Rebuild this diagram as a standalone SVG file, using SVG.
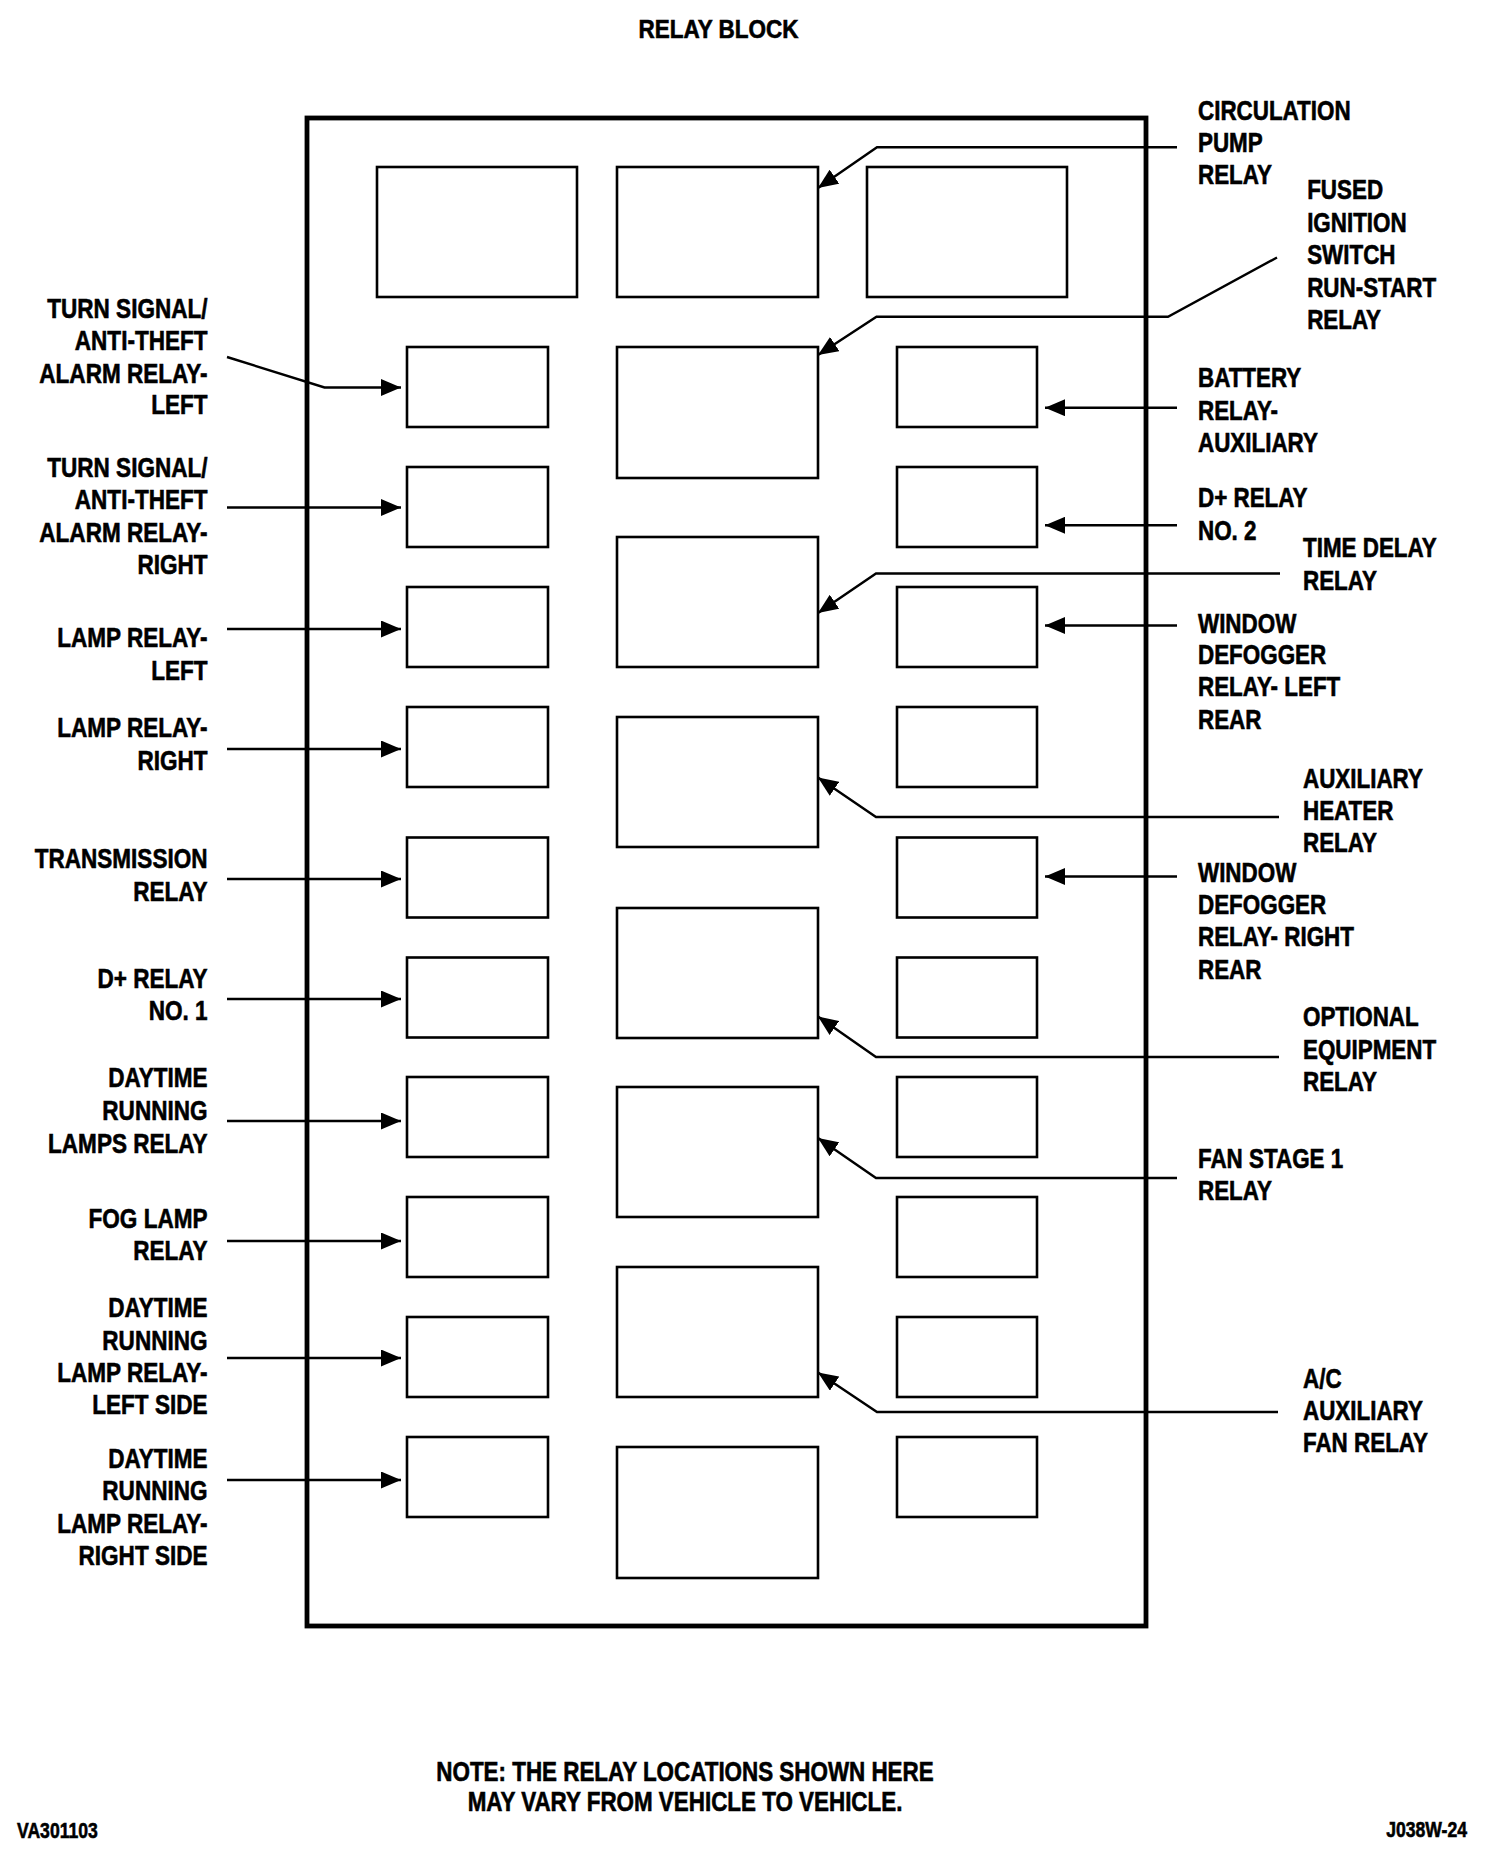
<svg xmlns="http://www.w3.org/2000/svg" width="1504" height="1858" viewBox="0 0 1504 1858">
<defs>
<style>
.bg{fill:#fff}
.frame{fill:none;stroke:#000;stroke-width:4.8}
.box{fill:none;stroke:#000;stroke-width:2.6}
.ln{fill:none;stroke:#000;stroke-width:2.4;stroke-linejoin:miter}
.t{font-family:"Liberation Sans",Arial,Helvetica,sans-serif;font-weight:bold;font-size:27px;fill:#000;stroke:#000;stroke-width:0.6}
.e{text-anchor:end}
.m{text-anchor:middle}
.s{font-size:22px}
</style>
<marker id="ah" viewBox="0 0 20 17" refX="20" refY="8.5" markerWidth="20" markerHeight="17" markerUnits="userSpaceOnUse" orient="auto">
<path d="M0,0 L20,8.5 L0,17 Z" fill="#000"/>
</marker>
</defs>
<rect class="bg" x="0" y="0" width="1504" height="1858"/>

<text class="t m" transform="translate(718.5 0) scale(0.9 1)" style="font-size:25px"><tspan x="0" y="37.7">RELAY BLOCK</tspan></text>

<g id="relay-block">
<rect class="frame" x="307" y="118" width="839" height="1508"/>
</g>

<g id="relays-top">
<rect id="top-left" class="box" x="377" y="167" width="200" height="130"/>
<rect id="circulation-pump-relay" class="box" x="617" y="167" width="201" height="130"/>
<rect id="top-right" class="box" x="867" y="167" width="200" height="130"/>
</g>

<g id="relays-middle">
<rect id="fused-ignition-relay" class="box" x="617" y="347" width="201" height="131"/>
<rect id="time-delay-relay" class="box" x="617" y="537" width="201" height="130"/>
<rect id="auxiliary-heater-relay" class="box" x="617" y="717" width="201" height="130"/>
<rect id="optional-equipment-relay" class="box" x="617" y="908" width="201" height="130"/>
<rect id="fan-stage-1-relay" class="box" x="617" y="1087" width="201" height="130"/>
<rect id="ac-auxiliary-fan-relay" class="box" x="617" y="1267" width="201" height="130"/>
<rect id="middle-bottom" class="box" x="617" y="1447" width="201" height="131"/>
</g>

<g id="relays-left">
<rect id="turn-signal-left" class="box" x="407" y="347" width="141" height="80"/>
<rect id="turn-signal-right" class="box" x="407" y="467" width="141" height="80"/>
<rect id="lamp-relay-left" class="box" x="407" y="587" width="141" height="80"/>
<rect id="lamp-relay-right" class="box" x="407" y="707" width="141" height="80"/>
<rect id="transmission-relay" class="box" x="407" y="837.5" width="141" height="80"/>
<rect id="d-plus-relay-1" class="box" x="407" y="957.5" width="141" height="80"/>
<rect id="drl-relay" class="box" x="407" y="1077" width="141" height="80"/>
<rect id="fog-lamp-relay" class="box" x="407" y="1197" width="141" height="80"/>
<rect id="drl-left-side" class="box" x="407" y="1317" width="141" height="80"/>
<rect id="drl-right-side" class="box" x="407" y="1437" width="141" height="80"/>
</g>

<g id="relays-right">
<rect id="battery-relay-aux" class="box" x="897" y="347" width="140" height="80"/>
<rect id="d-plus-relay-2" class="box" x="897" y="467" width="140" height="80"/>
<rect id="window-defogger-left" class="box" x="897" y="587" width="140" height="80"/>
<rect id="right-4" class="box" x="897" y="707" width="140" height="80"/>
<rect id="window-defogger-right" class="box" x="897" y="837.5" width="140" height="80"/>
<rect id="right-6" class="box" x="897" y="957.5" width="140" height="80"/>
<rect id="right-7" class="box" x="897" y="1077" width="140" height="80"/>
<rect id="right-8" class="box" x="897" y="1197" width="140" height="80"/>
<rect id="right-9" class="box" x="897" y="1317" width="140" height="80"/>
<rect id="right-10" class="box" x="897" y="1437" width="140" height="80"/>
</g>

<g id="connectors">
<polyline class="ln" points="227,357 324.5,387.5 401,387.5" marker-end="url(#ah)"/>
<polyline class="ln" points="227,507.5 401,507.5" marker-end="url(#ah)"/>
<polyline class="ln" points="227,629 401,629" marker-end="url(#ah)"/>
<polyline class="ln" points="227,749 401,749" marker-end="url(#ah)"/>
<polyline class="ln" points="227,879 401,879" marker-end="url(#ah)"/>
<polyline class="ln" points="227,999 401,999" marker-end="url(#ah)"/>
<polyline class="ln" points="227,1121 401,1121" marker-end="url(#ah)"/>
<polyline class="ln" points="227,1241 401,1241" marker-end="url(#ah)"/>
<polyline class="ln" points="227,1358 401,1358" marker-end="url(#ah)"/>
<polyline class="ln" points="227,1480 401,1480" marker-end="url(#ah)"/>

<polyline class="ln" points="1177,407.7 1045,407.7" marker-end="url(#ah)"/>
<polyline class="ln" points="1177,525.3 1045,525.3" marker-end="url(#ah)"/>
<polyline class="ln" points="1177,625.5 1045,625.5" marker-end="url(#ah)"/>
<polyline class="ln" points="1177,876.5 1045,876.5" marker-end="url(#ah)"/>

<polyline class="ln" points="1177,147.3 877,147.3 818,188" marker-end="url(#ah)"/>
<polyline class="ln" points="1277,257.5 1168,316.7 876.5,316.7 818,355" marker-end="url(#ah)"/>
<polyline class="ln" points="1280,573.5 876,573.5 818,613" marker-end="url(#ah)"/>
<polyline class="ln" points="1279,817 876,817 818,777.5" marker-end="url(#ah)"/>
<polyline class="ln" points="1279,1057 876,1057 818,1016.5" marker-end="url(#ah)"/>
<polyline class="ln" points="1177,1178 876,1178 818,1138" marker-end="url(#ah)"/>
<polyline class="ln" points="1278,1412 877,1412 818,1372.5" marker-end="url(#ah)"/>
</g>

<g id="labels-left" class="t e" transform="translate(207.5 0) scale(0.835 1)">
<text><tspan x="0" y="318">TURN SIGNAL/</tspan><tspan x="0" y="350.5">ANTI-THEFT</tspan><tspan x="0" y="382.7">ALARM RELAY-</tspan><tspan x="0" y="414.5">LEFT</tspan></text>
<text><tspan x="0" y="477">TURN SIGNAL/</tspan><tspan x="0" y="509.5">ANTI-THEFT</tspan><tspan x="0" y="541.7">ALARM RELAY-</tspan><tspan x="0" y="574">RIGHT</tspan></text>
<text><tspan x="0" y="647.3">LAMP RELAY-</tspan><tspan x="0" y="680">LEFT</tspan></text>
<text><tspan x="0" y="737.5">LAMP RELAY-</tspan><tspan x="0" y="770">RIGHT</tspan></text>
<text><tspan x="0" y="868">TRANSMISSION</tspan><tspan x="0" y="901">RELAY</tspan></text>
<text><tspan x="0" y="987.6">D+ RELAY</tspan><tspan x="0" y="1020.5">NO. 1</tspan></text>
<text><tspan x="0" y="1087.5">DAYTIME</tspan><tspan x="0" y="1120.4">RUNNING</tspan><tspan x="0" y="1152.7">LAMPS RELAY</tspan></text>
<text><tspan x="0" y="1228">FOG LAMP</tspan><tspan x="0" y="1260.2">RELAY</tspan></text>
<text><tspan x="0" y="1317.3">DAYTIME</tspan><tspan x="0" y="1350">RUNNING</tspan><tspan x="0" y="1382.5">LAMP RELAY-</tspan><tspan x="0" y="1414.4">LEFT SIDE</tspan></text>
<text><tspan x="0" y="1467.6">DAYTIME</tspan><tspan x="0" y="1500.5">RUNNING</tspan><tspan x="0" y="1532.8">LAMP RELAY-</tspan><tspan x="0" y="1564.7">RIGHT SIDE</tspan></text>
</g>

<g id="labels-right-a" class="t" transform="translate(1198 0) scale(0.83 1)">
<text><tspan x="0" y="120">CIRCULATION</tspan><tspan x="0" y="152">PUMP</tspan><tspan x="0" y="184">RELAY</tspan></text>
<text><tspan x="0" y="387.3">BATTERY</tspan><tspan x="0" y="420">RELAY-</tspan><tspan x="0" y="452.3">AUXILIARY</tspan></text>
<text><tspan x="0" y="507.3">D+ RELAY</tspan><tspan x="0" y="540">NO. 2</tspan></text>
<text><tspan x="0" y="632.8">WINDOW</tspan><tspan x="0" y="664.5">DEFOGGER</tspan><tspan x="0" y="696.5">RELAY- LEFT</tspan><tspan x="0" y="728.7">REAR</tspan></text>
<text><tspan x="0" y="882.3">WINDOW</tspan><tspan x="0" y="914">DEFOGGER</tspan><tspan x="0" y="946">RELAY- RIGHT</tspan><tspan x="0" y="978.7">REAR</tspan></text>
<text><tspan x="0" y="1168">FAN STAGE 1</tspan><tspan x="0" y="1200">RELAY</tspan></text>
</g>

<g id="labels-right-b" class="t" transform="translate(1303 0) scale(0.83 1)">
<text><tspan x="5" y="199">FUSED</tspan><tspan x="5" y="231.7">IGNITION</tspan><tspan x="5" y="264.3">SWITCH</tspan><tspan x="5" y="296.7">RUN-START</tspan><tspan x="5" y="329.3">RELAY</tspan></text>
<text><tspan x="0" y="557">TIME DELAY</tspan><tspan x="0" y="590">RELAY</tspan></text>
<text><tspan x="0" y="787.7">AUXILIARY</tspan><tspan x="0" y="820">HEATER</tspan><tspan x="0" y="852.4">RELAY</tspan></text>
<text><tspan x="0" y="1026.5">OPTIONAL</tspan><tspan x="0" y="1059">EQUIPMENT</tspan><tspan x="0" y="1091">RELAY</tspan></text>
<text><tspan x="0" y="1388">A/C</tspan><tspan x="0" y="1420">AUXILIARY</tspan><tspan x="0" y="1452">FAN RELAY</tspan></text>
</g>

<g id="footer">
<text class="t m" transform="translate(685 0) scale(0.83 1)"><tspan x="0" y="1781">NOTE: THE RELAY LOCATIONS SHOWN HERE</tspan><tspan x="0" y="1811">MAY VARY FROM VEHICLE TO VEHICLE.</tspan></text>
<text class="t s" transform="translate(17 0) scale(0.8 1)"><tspan x="0" y="1838">VA301103</tspan></text>
<text class="t s e" transform="translate(1467 0) scale(0.8 1)"><tspan x="0" y="1837">J038W-24</tspan></text>
</g>
</svg>
